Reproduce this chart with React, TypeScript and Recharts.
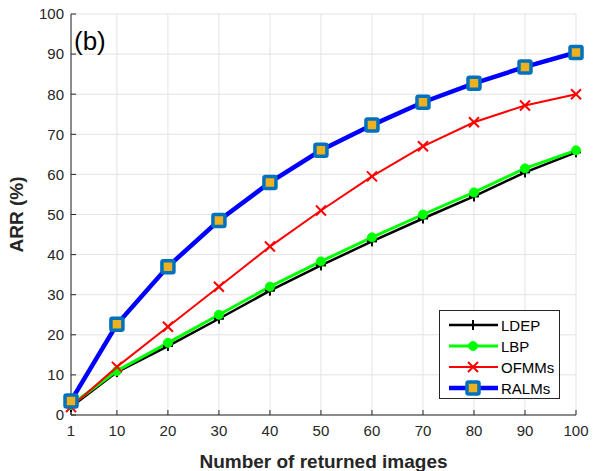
import React from "react";
import { LineChart, Line, XAxis, YAxis, CartesianGrid } from "recharts";

const xValues = [1, 10, 20, 30, 40, 50, 60, 70, 80, 90, 100];
const ldep = [2, 10.7, 17.2, 24, 31, 37.3, 43.3, 49, 54.5, 60.5, 65.5];
const lbp = [2.5, 11, 18, 25, 32, 38.3, 44.3, 50, 55.5, 61.5, 66];
const ofmms = [2, 12, 22, 32, 42, 51, 59.5, 67, 73, 77.2, 80];
const ralms = [3.5, 22.6, 37, 48.5, 58, 66, 72.3, 78, 82.7, 86.8, 90.4];
const xTicks = [1, 10, 20, 30, 40, 50, 60, 70, 80, 90, 100];
const yTicks = [0, 10, 20, 30, 40, 50, 60, 70, 80, 90, 100];

const data = xValues.map((x, i) => ({
  x,
  LDEP: ldep[i],
  LBP: lbp[i],
  OFMMs: ofmms[i],
  RALMs: ralms[i],
}));

const FONT = "'Liberation Sans', Arial, Helvetica, sans-serif";
const AXIS = "#262626";

const PlusDot = (p: any) => {
  const { cx, cy } = p;
  if (cx == null || cy == null) return null;
  return (
    <g>
      <line x1={cx - 5} x2={cx + 5} y1={cy} y2={cy} stroke="#000" strokeWidth={2} />
      <line x1={cx} x2={cx} y1={cy - 5} y2={cy + 5} stroke="#000" strokeWidth={2} />
    </g>
  );
};
const CircleDot = (p: any) => {
  const { cx, cy } = p;
  if (cx == null || cy == null) return null;
  return <circle cx={cx} cy={cy} r={4.5} fill="#00ff00" stroke="#00ff00" strokeWidth={1} />;
};
const CrossDot = (p: any) => {
  const { cx, cy } = p;
  if (cx == null || cy == null) return null;
  return (
    <g>
      <line x1={cx - 5} x2={cx + 5} y1={cy - 5} y2={cy + 5} stroke="#ff0000" strokeWidth={2} />
      <line x1={cx - 5} x2={cx + 5} y1={cy + 5} y2={cy - 5} stroke="#ff0000" strokeWidth={2} />
    </g>
  );
};
const SquareDot = (p: any) => {
  const { cx, cy } = p;
  if (cx == null || cy == null) return null;
  return (
    <rect x={cx - 6} y={cy - 6} width={12} height={12} rx={1.5} fill="#EDB120" stroke="#0072BD" strokeWidth={3.5} />
  );
};

const legendItems = [
  { name: "LDEP", color: "#000", w: 2.5, Dot: PlusDot },
  { name: "LBP", color: "#00ff00", w: 3, Dot: CircleDot },
  { name: "OFMMs", color: "#ff0000", w: 2, Dot: CrossDot },
  { name: "RALMs", color: "#0000ff", w: 4.5, Dot: SquareDot },
];

const LegendBox = () => (
  <div
    style={{
      position: "absolute",
      left: 439,
      top: 310,
      width: 119,
      height: 87,
      border: "1px solid #262626",
      background: "#fff",
    }}
  >
    <svg width={119} height={87} style={{ display: "block" }}>
      {legendItems.map((it, i) => {
        const y = 14 + i * 21;
        const D = it.Dot;
        return (
          <g key={it.name}>
            <line x1={9} x2={58} y1={y} y2={y} stroke={it.color} strokeWidth={it.w} />
            <D cx={33} cy={y} />
            <text x={61} y={y + 5.5} fontSize={15} fontFamily={FONT} fill="#000">
              {it.name}
            </text>
          </g>
        );
      })}
    </svg>
  </div>
);

export default function App() {
  return (
    <div style={{ position: "absolute", left: 0, top: 0, width: 597, height: 471, background: "#fff" }}>
      <LineChart width={597} height={471} data={data} margin={{ top: 14, right: 21, bottom: 0, left: 0 }}>
        <CartesianGrid stroke="#e3e3e3" strokeWidth={1} verticalValues={xTicks} horizontalValues={yTicks} />
        <XAxis
          dataKey="x"
          type="number"
          domain={[1, 100]}
          ticks={xTicks}
          interval={0}
          height={56}
          stroke={AXIS}
          tickSize={-5}
          tickMargin={15}
          tick={{ fill: AXIS, fontSize: 15, fontFamily: FONT }}
          label={{ value: "Number of returned images", position: "insideBottom", offset: 3, fill: AXIS, fontSize: 19, fontWeight: "bold", fontFamily: FONT }}
        />
        <XAxis
          xAxisId="top"
          orientation="top"
          dataKey="x"
          type="number"
          domain={[1, 100]}
          ticks={xTicks}
          height={0}
          stroke={AXIS}
          tickSize={-5}
          tick={false}
        />
        <YAxis
          type="number"
          domain={[0, 100]}
          ticks={yTicks}
          interval={0}
          width={71}
          stroke={AXIS}
          tickSize={-5}
          tickMargin={12}
          tick={{ fill: AXIS, fontSize: 15, fontFamily: FONT }}
          label={{ value: "ARR (%)", angle: -90, position: "insideLeft", offset: 16, fill: AXIS, fontSize: 19, fontWeight: "bold", fontFamily: FONT, style: { textAnchor: "middle" } }}
        />
        <YAxis
          yAxisId="right"
          orientation="right"
          type="number"
          domain={[0, 100]}
          ticks={yTicks}
          width={0}
          stroke={AXIS}
          tickSize={-5}
          tick={false}
        />
        <Line dataKey="LDEP" stroke="#000" strokeWidth={2.5} dot={<PlusDot />} isAnimationActive={false} />
        <Line dataKey="LBP" stroke="#00ff00" strokeWidth={3} dot={<CircleDot />} isAnimationActive={false} />
        <Line dataKey="OFMMs" stroke="#ff0000" strokeWidth={2} dot={<CrossDot />} isAnimationActive={false} />
        <Line dataKey="RALMs" stroke="#0000ff" strokeWidth={4.5} dot={<SquareDot />} isAnimationActive={false} />
        <text x={74} y={50} fontSize={26} fontFamily={FONT} fill="#000">(b)</text>
      </LineChart>
      <LegendBox />
    </div>
  );
}
